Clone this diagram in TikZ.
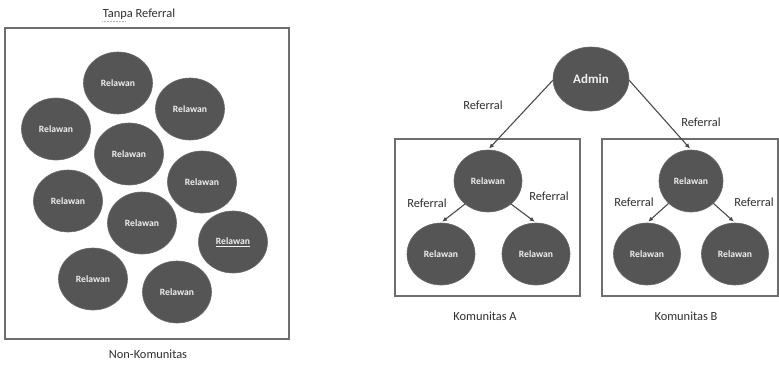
\documentclass[tikz,border=0pt]{standalone}
\usepackage{fontspec}
\setmainfont{Carlito}
\usetikzlibrary{arrows.meta,shapes.geometric}
\definecolor{circfill}{HTML}{555555}
\definecolor{circline}{HTML}{6A6A6A}
\definecolor{txt}{HTML}{2E2E2E}
\definecolor{boxline}{HTML}{6E6E6E}
\definecolor{arrline}{HTML}{4A4A4A}
\tikzset{
  vol/.style={ellipse, fill=circfill, draw=circline, line width=0.6pt,
    minimum width=#1, minimum height=62pt, inner sep=0pt,
    text=white!94!black, font=\bfseries\fontsize{9.6}{12}\selectfont},
  vol/.default=69pt,
  lbl/.style={text=txt, font=\fontsize{12.4}{14}\selectfont, inner sep=0pt},
  frame/.style={draw=boxline, line width=1.1pt},
  ref/.style={draw=arrline, line width=1.1pt, -{Latex[length=5pt,width=4.5pt]}, shorten >=1.5pt},
}
\begin{document}
\begin{tikzpicture}[x=1pt,y=-1pt]
\useasboundingbox (0,0) rectangle (779,365);
% left panel
\node[lbl] (t1) at (139,14) {Tanpa Referral};
\draw[frame] (5,28) rectangle (289,339);
\node[lbl] (t2) at (148,354) {Non-Komunitas};
\draw[densely dotted, draw=gray!60, line width=0.5pt] (102,21) -- (125,21);
\node[vol] (c1) at (118,83) {Relawan};
\node[vol] (c2) at (190,109) {Relawan};
\node[vol] (c3) at (56,129) {Relawan};
\node[vol] (c4) at (129,154) {Relawan};
\node[vol] (c5) at (202,182) {Relawan};
\node[vol] (c6) at (68,201) {Relawan};
\node[vol] (c7) at (142,223) {Relawan};
\node[vol] (c8) at (233,242) {\underline{Relawan}};
\node[vol] (c9) at (93,279) {Relawan};
\node[vol] (c10) at (177,292) {Relawan};
% right panel
\draw[frame] (395,139) rectangle (580,296);
\draw[frame] (602,139) rectangle (778,296);
\node[lbl] (ka) at (485,316) {Komunitas A};
\node[lbl] (kb) at (686,316) {Komunitas B};
\node[ellipse, fill=circfill, draw=circline, line width=0.6pt, minimum width=76pt, minimum height=64pt,
  inner sep=0pt, text=white!94!black, font=\bfseries\fontsize{13}{15}\selectfont] (admin) at (591,79) {Admin};
\node[vol=68pt] (ra) at (488,181) {Relawan};
\node[vol=68pt] (al) at (441,254) {Relawan};
\node[vol=68pt] (ar) at (536,254) {Relawan};
\node[vol=64pt] (rb) at (691,181) {Relawan};
\node[vol=67pt] (bl) at (647,254) {Relawan};
\node[vol=67pt] (br) at (735,254) {Relawan};
\draw[ref] (admin.182) -- (ra.north);
\draw[ref] (admin.-2) -- (rb.north);
\draw[ref] (ra.225) -- (al.north);
\draw[ref] (ra.-45) -- (ar.north);
\draw[ref] (rb.225) -- (bl.north);
\draw[ref] (rb.-45) -- (br.north);
\node[lbl] (r1) at (483,105) {Referral};
\node[lbl] (r2) at (701,122) {Referral};
\node[lbl] (r3) at (427,203) {Referral};
\node[lbl] (r4) at (549,196) {Referral};
\node[lbl] (r5) at (634,202) {Referral};
\node[lbl] (r6) at (754,202) {Referral};
\end{tikzpicture}
\end{document}
